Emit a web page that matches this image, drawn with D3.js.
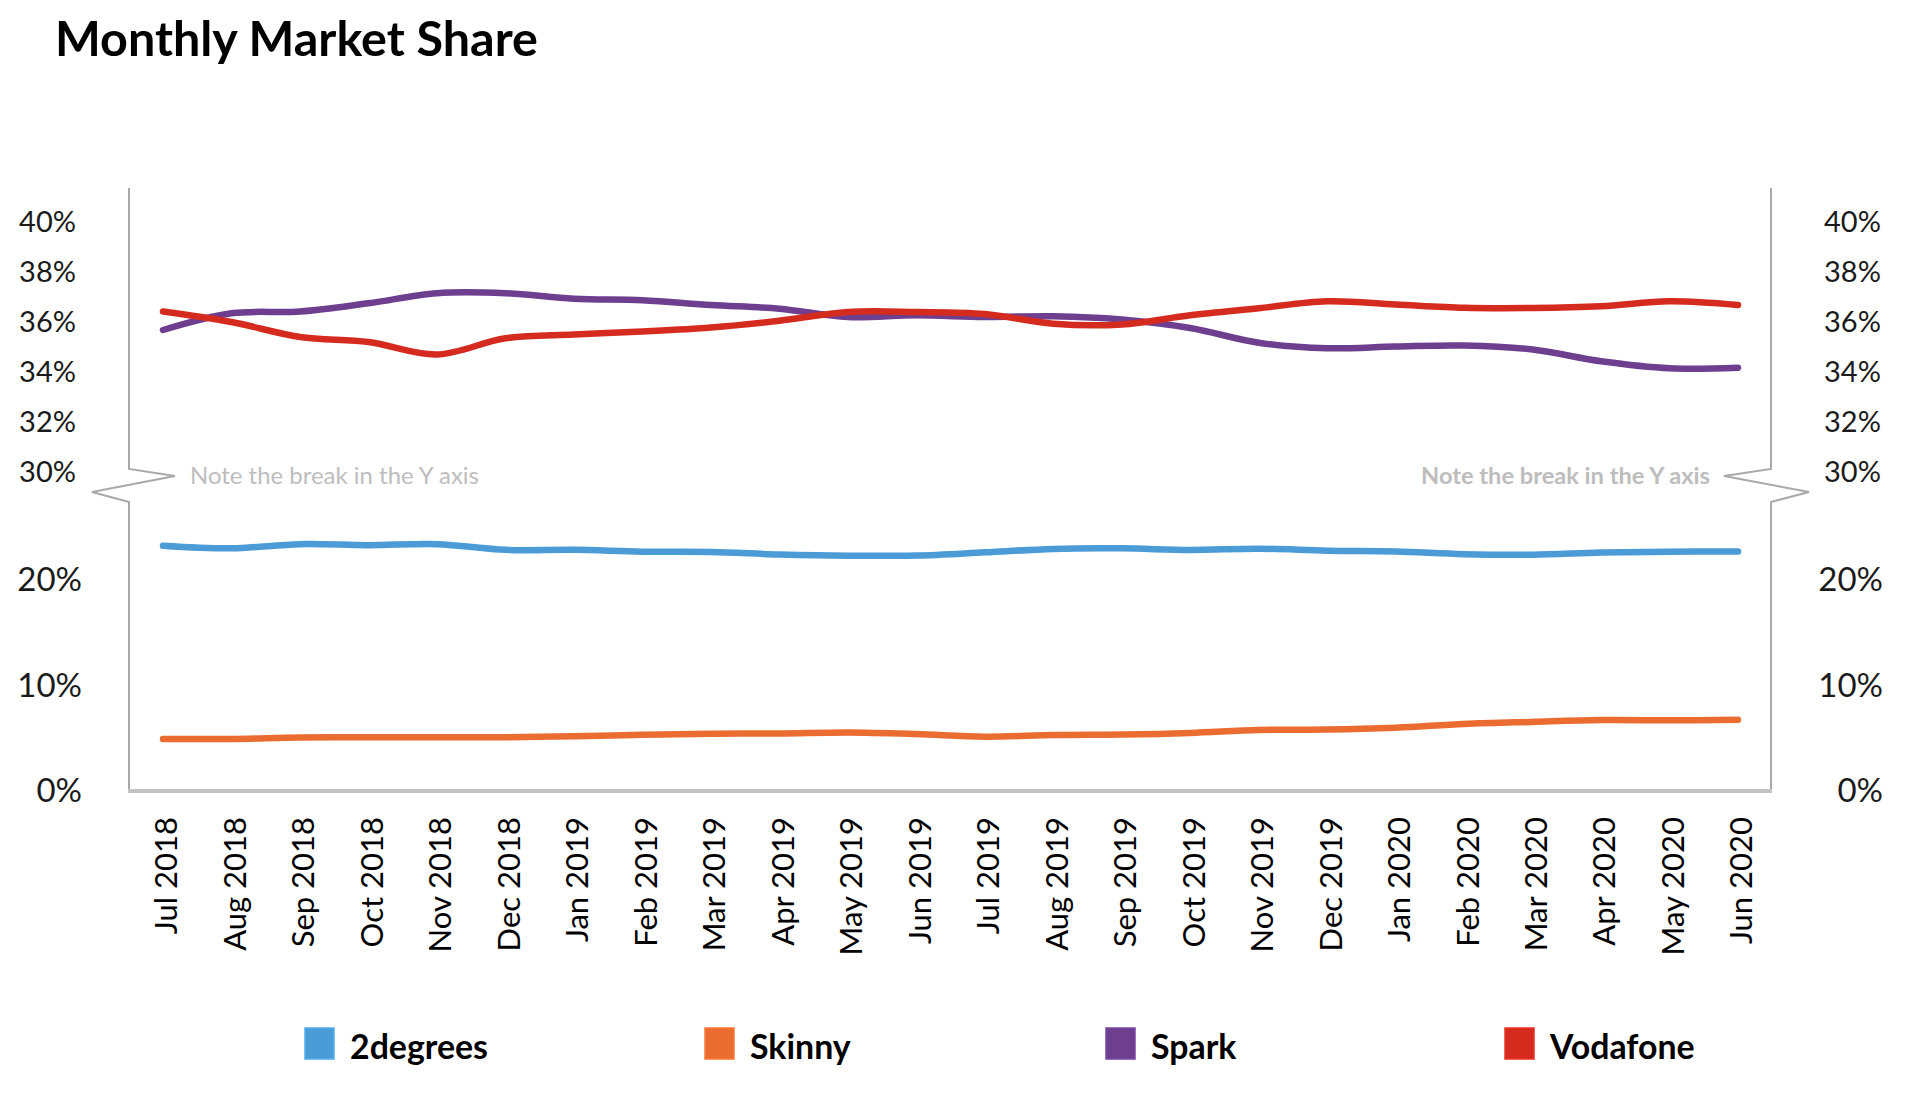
<!DOCTYPE html>
<html>
<head>
<meta charset="utf-8">
<script src="https://cdn.jsdelivr.net/npm/d3@7"></script>
<style>
  html, body { margin: 0; padding: 0; background: #ffffff; }
  svg { display: block; }
  text { font-family: Lato, "Open Sans", sans-serif; }
</style>
</head>
<body>
<svg id="chart" width="1920" height="1116"></svg>
<script>
// ---------------- DATA ----------------
const months = ["Jul 2018","Aug 2018","Sep 2018","Oct 2018","Nov 2018","Dec 2018",
  "Jan 2019","Feb 2019","Mar 2019","Apr 2019","May 2019","Jun 2019",
  "Jul 2019","Aug 2019","Sep 2019","Oct 2019","Nov 2019","Dec 2019",
  "Jan 2020","Feb 2020","Mar 2020","Apr 2020","May 2020","Jun 2020"];

const seriesNames = ["2degrees", "Skinny", "Spark", "Vodafone"];

const twodegrees = [23.25, 23.0, 23.4, 23.3, 23.4, 22.86, 22.86, 22.68, 22.65, 22.42, 22.3, 22.32,
                    22.62, 22.95, 23.0, 22.85, 22.97, 22.78, 22.7, 22.45, 22.4, 22.6, 22.68, 22.7];
const skinny     = [4.93, 4.93, 5.08, 5.09, 5.09, 5.1, 5.2, 5.32, 5.43, 5.45, 5.55, 5.4,
                    5.15, 5.3, 5.35, 5.5, 5.78, 5.82, 6.0, 6.35, 6.55, 6.72, 6.7, 6.75];
const spark      = [35.68, 36.35, 36.42, 36.75, 37.15, 37.15, 36.93, 36.87, 36.68, 36.53, 36.2, 36.27,
                    36.2, 36.23, 36.1, 35.76, 35.17, 34.95, 35.02, 35.06, 34.9, 34.43, 34.15, 34.17];
const vodafone   = [36.42, 36.0, 35.4, 35.2, 34.7, 35.35, 35.5, 35.62, 35.78, 36.05, 36.4, 36.4,
                    36.32, 35.93, 35.9, 36.27, 36.55, 36.83, 36.7, 36.57, 36.56, 36.63, 36.83, 36.68];

const upperTicks = [30, 32, 34, 36, 38, 40];
const lowerTicks = [0, 10, 20];

const titleText = "Monthly Market Share";
const noteText = "Note the break in the Y axis";

// ---------------- STYLE ----------------
const colors = { "2degrees": "#4a9bd6", "Skinny": "#ea6c31", "Spark": "#6e3f8e", "Vodafone": "#d52b1f" };

const svg = d3.select("#chart");

const L = 129, R = 1771, T = 188, B = 791;

const x = d3.scalePoint().domain(months).range([163, 1738]);
const yUp = d3.scaleLinear().domain([30, 40]).range([472, 222]);
const yLo = d3.scaleLinear().domain([0, 20]).range([791, 580]);

function fit(sel, w) {
  const fs = parseFloat(sel.attr("font-size"));
  const cur = sel.node().getComputedTextLength();
  sel.attr("font-size", (fs * w / cur).toFixed(2));
}

// Title
const title = svg.append("text").attr("x", 55).attr("y", 56)
  .attr("font-size", 48).attr("font-weight", 700).attr("fill", "#000").text(titleText);
fit(title, 483);

// Axis frame with breaks
const axisColor = "#a9a9a9";
svg.append("path")
  .attr("d", `M${L},${T} L${L},469 L175,476 L92,492 L${L},502 L${L},${B}`)
  .attr("fill", "none").attr("stroke", axisColor).attr("stroke-width", 2);
svg.append("path")
  .attr("d", `M${R},${T} L${R},469 L1724,476 L1809,492 L${R},502 L${R},${B}`)
  .attr("fill", "none").attr("stroke", axisColor).attr("stroke-width", 2);
svg.append("line").attr("x1", L - 1).attr("x2", R + 1).attr("y1", B).attr("y2", B)
  .attr("stroke", "#c3c3c3").attr("stroke-width", 4);

// Notes
svg.append("text").attr("x", 190).attr("y", 476).attr("dy", "0.35em")
  .attr("font-size", 23).attr("fill", "#bdbdbd").text(noteText)
  .call(s => fit(s, 289));
svg.append("text").attr("x", 1710).attr("y", 476).attr("dy", "0.35em")
  .attr("text-anchor", "end").attr("font-weight", 700)
  .attr("font-size", 23).attr("fill", "#bdbdbd").text(noteText)
  .call(s => fit(s, 289));

// Y axes
const fmt = d => d + "%";
function styleAxis(g, fs) {
  g.select(".domain").remove();
  g.selectAll(".tick line").remove();
  g.selectAll(".tick text").attr("font-family", "Lato, sans-serif")
    .attr("font-size", fs).attr("fill", "#1a1a1a");
}
svg.append("g").attr("transform", "translate(76,0)")
  .call(d3.axisLeft(yUp).tickValues(upperTicks).tickFormat(fmt).tickSize(0).tickPadding(0))
  .call(g => styleAxis(g, 29));
svg.append("g").attr("transform", "translate(82,0)")
  .call(d3.axisLeft(yLo).tickValues(lowerTicks).tickFormat(fmt).tickSize(0).tickPadding(0))
  .call(g => styleAxis(g, 33));
svg.append("g").attr("transform", "translate(1824,0)")
  .call(d3.axisRight(yUp).tickValues(upperTicks).tickFormat(fmt).tickSize(0).tickPadding(0))
  .call(g => styleAxis(g, 29));
svg.append("g").attr("transform", "translate(1883,0)")
  .call(d3.axisLeft(yLo).tickValues(lowerTicks).tickFormat(fmt).tickSize(0).tickPadding(0))
  .call(g => styleAxis(g, 33));

// X axis labels
svg.append("g").attr("transform", `translate(0,${B})`)
  .call(d3.axisBottom(x).tickSize(0).tickPadding(0))
  .call(g => {
    g.select(".domain").remove();
    g.selectAll(".tick text")
      .attr("font-family", "Lato, sans-serif").attr("font-size", 31).attr("fill", "#000")
      .attr("text-anchor", "end")
      .attr("transform", "rotate(-90)")
      .attr("x", -26).attr("y", 0).attr("dy", "0.45em");
  });

// Lines
const series = [
  { name: "2degrees", values: twodegrees, y: yLo },
  { name: "Skinny", values: skinny, y: yLo },
  { name: "Spark", values: spark, y: yUp },
  { name: "Vodafone", values: vodafone, y: yUp }
];
series.forEach(s => {
  const line = d3.line()
    .x((d, i) => x(months[i]))
    .y(d => s.y(d))
    .curve(d3.curveCatmullRom.alpha(0.5));
  svg.append("path").datum(s.values)
    .attr("d", line)
    .attr("fill", "none")
    .attr("stroke", colors[s.name])
    .attr("stroke-width", 6.5)
    .attr("stroke-linecap", "round")
    .attr("stroke-linejoin", "round");
});

// Legend
const legX = [305, 705, 1106, 1505];
const lg = svg.append("g");
let legFs = 33;
seriesNames.forEach((n, i) => {
  lg.append("rect").attr("x", legX[i]).attr("y", 1028).attr("width", 29).attr("height", 31)
    .attr("fill", colors[n]).attr("stroke", d3.color(colors[n]).brighter(0.3)).attr("stroke-width", 1.5);
  const t = lg.append("text").attr("x", legX[i] + 45).attr("y", 1059)
    .attr("font-size", legFs).attr("font-weight", 700).attr("fill", "#000").text(n);
  if (i === 0) { fit(t, 138); legFs = parseFloat(t.attr("font-size")); }
});
</script>
</body>
</html>
